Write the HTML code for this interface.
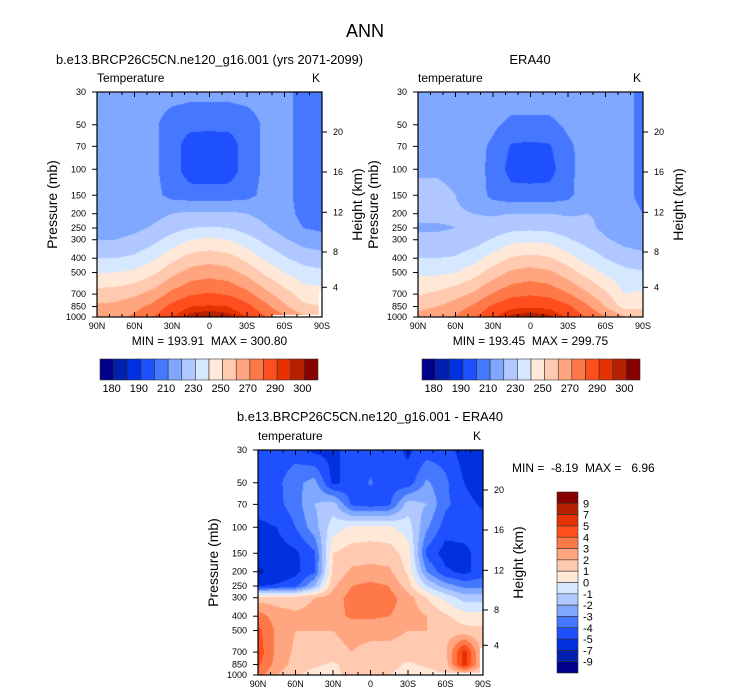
<!DOCTYPE html>
<html><head><meta charset="utf-8">
<style>
html,body{margin:0;padding:0;background:#fff;}
#root{position:relative;width:733px;height:699px;overflow:hidden;font-family:"Liberation Sans",sans-serif;}
canvas{position:absolute;}
svg{position:absolute;left:0;top:0;}
svg text{white-space:pre;}
</style></head>
<body>
<div id="root">
<canvas id="c1"></canvas>
<canvas id="c2"></canvas>
<canvas id="c3"></canvas>
<svg id="ov" width="733" height="699"></svg>
</div>
<script>
const lats = [90,75,60,45,30,15,0,-15,-30,-45,-60,-75,-90];
const levels = [30,50,70,100,150,200,250,300,400,500,700,850,1000];
const pTicks = [30,50,70,100,150,200,250,300,400,500,700,850,1000];
const latTickVals = [90,60,30,0,-30,-60,-90];
const latTickLabels = ["90N","60N","30N","0","30S","60S","90S"];
const kmLabels = [20,16,12,8,4];
const kmOffsets = [40,80,120.3,160,195.3];
const tempLevels = [180,185,190,200,210,220,230,240,250,260,270,280,290,295,300];
const tempLabelIdx = [0,2,4,6,8,10,12,14];
const diffLevels = [-9,-7,-5,-4,-3,-2,-1,0,1,2,3,4,5,7,9];
const palette = ["#00008c","#0021b0","#0030e0","#1e50ff","#4678ff","#80a8ff","#b0c8ff","#d6e8ff","#ffe8d8","#ffcab0","#ffa680","#ff7848","#ff4e1e","#e63200","#b42000","#880000"];

const modelT = [
[214,214,214,214,214,213,213,213,214,214,213,206,205],
[214,214,214,212,205,203,203,203,205,212,213,206,205],
[214,214,214,212,205,194,193,194,205,212,213,206,205],
[214,214,214,212,205,194,193,194,205,212,213,206,205],
[214,214,214,213,207,205,205,205,207,213,213,206,205],
[215,215,216,217,220,222,222,222,220,217,214,207,206],
[217,217,218,221,226,230,231,230,226,221,216,210,208],
[220,220,222,227,234,240,242,240,234,227,221,216,214],
[230,230,232,238,247,254,256,254,247,238,231,226,224],
[240,240,242,248,257,264,266,264,257,248,240,234,232],
[254,255,258,264,273,279,281,279,273,263,254,246,244],
[262,263,267,273,283,290,291,290,283,273,262,252,250],
[266,267,272,280,290,298,301,298,290,280,272,262,258]];

const eraT = [
[218,218,218,219,219,217,217,217,219,218,217,212,208],
[218,218,217,215,212,207,207,207,212,215,217,212,208],
[218,218,217,214,208,199,198,199,208,214,217,212,208],
[219,219,218,214,207,196,195,196,207,215,217,212,208],
[222,222,220,216,207,204,204,204,207,217,218,212,208],
[222,222,221,220,219,220,220,220,219,220,219,213,210],
[219,219,220,223,224,227,228,227,224,222,218,214,211],
[222,222,223,225,231,237,238,237,231,226,221,217,215],
[230,230,231,236,244,251,253,251,244,236,230,225,223],
[238,238,240,246,255,262,264,262,255,246,238,233,231],
[249,252,256,262,271,277,279,277,271,262,252,240,242],
[258,260,265,272,282,288,289,288,282,272,260,246,248],
[262,265,271,279,289,297,299,297,289,279,271,261,257]];

const diffT = [
[-4.5,-4.5,-4.5,-5.3,-5.3,-4.5,-4.5,-4.5,-5.2,-4.5,-4.5,-5.5,-6],
[-4.5,-4.3,-3.3,-2.6,-5.3,-4.5,-3.9,-4.5,-4.6,-2.8,-3.8,-5,-6],
[-4.5,-4.3,-3.5,-2,-1.5,-4.2,-4.5,-4.2,-1.5,-2,-3.8,-4.5,-5.2],
[-5.3,-5,-4,-2.4,-0.5,0.2,0.3,0.2,-0.5,-2.8,-4.5,-4.5,-4.5],
[-5.5,-5.5,-5.2,-4.2,1,1.5,1.6,1.5,0.5,-4.3,-5.5,-5.3,-4.5],
[-7.6,-6,-5.3,-4.2,1.2,2.2,2.3,2.2,0.8,-3,-4.8,-5.3,-4.5],
[-5,-4.8,-4.3,-2,1.8,3,3.3,3,1.5,-1,-2.5,-3.3,-3.3],
[1.5,1.5,1.5,2,2.5,3.4,3.5,3.4,2.5,1,-0.3,-1.5,-1.5],
[3.5,2.5,2.2,2.3,2.6,3.2,3.2,3.0,2.6,2.0,1.2,0.5,0.5],
[4.3,2.8,2,2,2,2.2,2.2,2.2,2,2,1.6,1.3,1.2],
[4.6,2.7,1.8,1.5,1.8,2,1.8,1.8,1.7,1.5,1.8,5.5,1.5],
[4.2,2.6,1.6,1.2,0.8,1.5,1.5,1.4,0.8,1.2,1.5,5.5,1.5],
[3.5,2,1.2,0.5,0.8,1.2,1.5,1,0.5,0.5,1,1,1]];

const panels = [
 {id:"c1",x:97,y:92,w:225,h:225,data:modelT,lev:tempLevels,mask:true,name:"model"},
 {id:"c2",x:418,y:92,w:225,h:225,data:eraT,lev:tempLevels,mask:false,name:"era40"},
 {id:"c3",x:258,y:450,w:225,h:225,data:diffT,lev:diffLevels,mask:true,name:"diff"}];

const LP0=Math.log(30), LP1=Math.log(1000);
function yOfP(pn,p){return pn.y+(Math.log(p)-LP0)/(LP1-LP0)*pn.h;}
function xOfLat(pn,lat){return pn.x+(90-lat)/180*pn.w;}
function pOfFrac(f){return Math.exp(LP0+f*(LP1-LP0));}
function hexToRgb(h){return [parseInt(h.substr(1,2),16),parseInt(h.substr(3,2),16),parseInt(h.substr(5,2),16)];}
const rgb = palette.map(hexToRgb);
function bin(v,lev){let i=0;while(i<lev.length&&v>=lev[i])i++;return i;}
function sample(data,lat,p){
  let fx=(90-lat)/15; let i=Math.min(Math.floor(fx),lats.length-2); let tx=fx-i;
  const lp=Math.log(p); let j=0;
  while(j<levels.length-2&&lp>Math.log(levels[j+1]))j++;
  let ty=(lp-Math.log(levels[j]))/(Math.log(levels[j+1])-Math.log(levels[j]));
  ty=Math.max(0,Math.min(1,ty));
  const a=data[j][i],b=data[j][i+1],c=data[j+1][i],d=data[j+1][i+1];
  return (a*(1-tx)+b*tx)*(1-ty)+(c*(1-tx)+d*tx)*ty;
}
panels.forEach(pn=>{
  const cv=document.getElementById(pn.id);
  cv.width=pn.w;cv.height=pn.h;cv.style.left=pn.x+"px";cv.style.top=pn.y+"px";
  const ctx=cv.getContext("2d");const img=ctx.createImageData(pn.w,pn.h);
  for(let py=0;py<pn.h;py++){
    const p=pOfFrac((py+0.5)/pn.h);
    for(let px=0;px<pn.w;px++){
      const lat=90-(px+0.5)/pn.w*180;
      let col;
      if(pn.mask&&((lat<-50&&p>965)||(lat<-87.5&&p>660))) col=[255,255,255];
      else col=rgb[bin(sample(pn.data,lat,p),pn.lev)];
      const k=(py*pn.w+px)*4;img.data[k]=col[0];img.data[k+1]=col[1];img.data[k+2]=col[2];img.data[k+3]=255;
    }
  }
  ctx.putImageData(img,0,0);
});

const NS="http://www.w3.org/2000/svg";
const ov=document.getElementById("ov");
function el(tag,attrs,parent){const e=document.createElementNS(NS,tag);for(const k in attrs)e.setAttribute(k,attrs[k]);(parent||ov).appendChild(e);return e;}
function txt(s,x,y,size,anchor,name,extra){const t=el("text",Object.assign({x:x,y:y,"font-size":size,"text-anchor":anchor||"start","font-family":"Liberation Sans, sans-serif",fill:"#000"},extra||{}));t.textContent=s;


return t;}

txt("ANN",365,37,18,"middle","main-title");

const titles=[
 {s:"b.e13.BRCP26C5CN.ne120_g16.001 (yrs 2071-2099)",cx:209.5,y:64,w:307,left:"Temperature",mm:"MIN = 193.91  MAX = 300.80"},
 {s:"ERA40",cx:530,y:64,w:0,left:"temperature",mm:"MIN = 193.45  MAX = 299.75"},
 {s:"b.e13.BRCP26C5CN.ne120_g16.001 - ERA40",cx:370,y:421,w:266,left:"temperature",mm:null}];

panels.forEach((pn,idx)=>{
  const g=el("g",{});
  
  
  const T=titles[idx];
  const ex=T.w?{textLength:T.w,lengthAdjust:"spacingAndGlyphs"}:{};
  txt(T.s,T.cx,T.y,13,"middle",pn.name+"-subtitle",ex);
  txt(T.left,pn.x,pn.y-10,12,"start",pn.name+"-variable-label");
  txt("K",pn.x+pn.w-2,pn.y-10,12,"end",pn.name+"-units-label");
  el("rect",{x:pn.x,y:pn.y,width:pn.w,height:pn.h,fill:"none",stroke:"#000","stroke-width":1.2},g);
  pTicks.forEach(p=>{const y=yOfP(pn,p);
    el("line",{x1:pn.x-5,x2:pn.x,y1:y,y2:y,stroke:"#000","stroke-width":1},g);
    txt(String(p),pn.x-11,y+3,9,"end",pn.name+"-y-tick-"+p);});
  kmLabels.forEach((k,i)=>{const y=pn.y+kmOffsets[i];
    el("line",{x1:pn.x+pn.w,x2:pn.x+pn.w+5,y1:y,y2:y,stroke:"#000","stroke-width":1},g);
    txt(String(k),pn.x+pn.w+11,y+3,9,"start",pn.name+"-height-tick-"+k);});
  for(let lat=90;lat>=-90;lat-=10){const x=xOfLat(pn,lat);const major=lat%30===0;
    el("line",{x1:x,x2:x,y1:pn.y,y2:pn.y+(major?5:3),stroke:"#000","stroke-width":1},g);
    el("line",{x1:x,x2:x,y1:pn.y+pn.h,y2:pn.y+pn.h-(major?5:3),stroke:"#000","stroke-width":1},g);}
  latTickVals.forEach((lat,i)=>{txt(latTickLabels[i],xOfLat(pn,lat),pn.y+pn.h+12,9,"middle",pn.name+"-x-tick-"+latTickLabels[i]);});
  const ly=pn.y+pn.h/2;
  txt("Pressure (mb)",pn.x-40,ly,14,"middle",pn.name+"-y-axis-title",{transform:"rotate(-90 "+(pn.x-40)+" "+ly+")"});
  txt("Height (km)",pn.x+pn.w+40,ly,14,"middle",pn.name+"-y2-axis-title",{transform:"rotate(-90 "+(pn.x+pn.w+40)+" "+ly+")"});
  if(T.mm) txt(T.mm,pn.x+pn.w/2,pn.y+pn.h+28,12,"middle",pn.name+"-min-max");
});
txt("MIN =  -8.19  MAX =   6.96",512,472,12,"start","diff-min-max");

[{x:100,name:"model"},{x:422,name:"era40"}].forEach(cb=>{
  const w=218,h=21,y=359,bw=w/palette.length;
  palette.forEach((c,i)=>{const r=el("rect",{x:cb.x+i*bw,y:y,width:bw,height:h,fill:c,stroke:"#333","stroke-width":0.6});
    
    });
  tempLabelIdx.forEach(k=>{txt(String(tempLevels[k]),cb.x+(k+1)*bw-2,392,11,"middle",cb.name+"-colorbar-label");});
});
(function(){const x=557,y=492,w=21,h=181,bh=h/palette.length;
  palette.slice().reverse().forEach((c,i)=>{const r=el("rect",{x:x,y:y+i*bh,width:w,height:bh,fill:c,stroke:"#333","stroke-width":0.6});
    
    });
  diffLevels.slice().reverse().forEach((v,i)=>{txt(String(v),583,y+(i+1)*bh+4,11,"start","diff-colorbar-label");});
})();
</script>
</body></html>
